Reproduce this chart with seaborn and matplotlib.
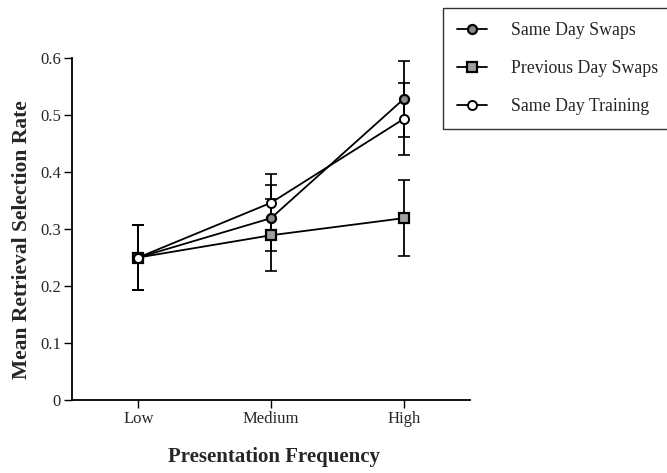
import numpy as np
import pandas as pd
import matplotlib
matplotlib.use("Agg")
import matplotlib.pyplot as plt
import seaborn as sns

categories = ["Low", "Medium", "High"]
series_names = ["Same Day Swaps", "Previous Day Swaps", "Same Day Training"]
same_day_swaps = [0.250, 0.319, 0.528]
same_day_swaps_err = [0.057, 0.058, 0.067]
previous_day_swaps = [0.250, 0.289, 0.319]
previous_day_swaps_err = [0.057, 0.063, 0.067]
same_day_training = [0.250, 0.346, 0.493]
same_day_training_err = [0.057, 0.050, 0.063]
y_ticks = [0, 0.1, 0.2, 0.3, 0.4, 0.5, 0.6]
y_tick_labels = ["0", "0.1", "0.2", "0.3", "0.4", "0.5", "0.6"]

sns.set_theme(style="ticks")
plt.rcParams['font.family'] = ['Liberation Serif', 'DejaVu Serif']

values = [same_day_swaps, previous_day_swaps, same_day_training]
errors = [same_day_swaps_err, previous_day_swaps_err, same_day_training_err]
rows = []
for name, vals, errs in zip(series_names, values, errors):
    for i, (c, v, e) in enumerate(zip(categories, vals, errs)):
        rows.append({"series": name, "pos": i, "freq": c, "rate": v, "err": e})
df = pd.DataFrame(rows)

styles = {
    "Same Day Swaps": dict(marker="o", markerfacecolor="#8a8a8a", markersize=6.5, markeredgewidth=1.6),
    "Previous Day Swaps": dict(marker="s", markerfacecolor="#a0a0a0", markersize=6.5, markeredgewidth=1.6),
    "Same Day Training": dict(marker="o", markerfacecolor="white", markersize=6.5, markeredgewidth=1.4),
}

fig = plt.figure(figsize=(6.67, 4.73), dpi=100)
ax = fig.add_axes([72/667, 1-400/473, (470-72)/667, (400-58)/473])

for name in series_names:
    sub = df[df["series"] == name]
    ax.errorbar(sub["pos"], sub["rate"], yerr=sub["err"], fmt="none",
                ecolor="black", elinewidth=1.3, capsize=4, capthick=1.2, zorder=2)
    sns.lineplot(data=sub, x="pos", y="rate", ax=ax, color="black", linewidth=1.3,
                 markeredgecolor="black", label=name, zorder=3, **styles[name])

ax.set_xlim(-0.5, 2.5)
ax.set_ylim(0, 0.6)
ax.set_xticks(range(len(categories)))
ax.set_xticklabels(categories, fontsize=12)
ax.set_yticks(y_ticks)
ax.set_yticklabels(y_tick_labels, fontsize=12)
ax.tick_params(axis="both", direction="out", length=6, width=1, color="black", pad=2)
for s in ["top", "right"]:
    ax.spines[s].set_visible(False)
for s in ["left", "bottom"]:
    ax.spines[s].set_color("black")
    ax.spines[s].set_linewidth(1.3)

ax.set_xlabel("Presentation Frequency", fontsize=15, fontweight="bold")
ax.set_ylabel("Mean Retrieval Selection Rate", fontsize=15.5, fontweight="bold")
ax.xaxis.set_label_coords((274 - 72) / 398, -(457 - 400) / 342)
ax.yaxis.set_label_coords((22 - 72) / 398, (400 - 240) / 342)
ax.xaxis.label.set_va("center")
ax.yaxis.label.set_va("center")

ax.get_legend().remove()
handles, labels = ax.get_legend_handles_labels()
leg = fig.legend(handles, labels, loc="upper left", bbox_to_anchor=(443/667, 1-8/473),
                 frameon=True, fancybox=False, edgecolor="black", fontsize=12.8,
                 labelspacing=1.17, handlelength=1.65, borderpad=0.8, handletextpad=1.35,
                 borderaxespad=0)
leg.get_frame().set_linewidth(1.0)

fig.savefig("out.png", dpi=100, facecolor="white")
